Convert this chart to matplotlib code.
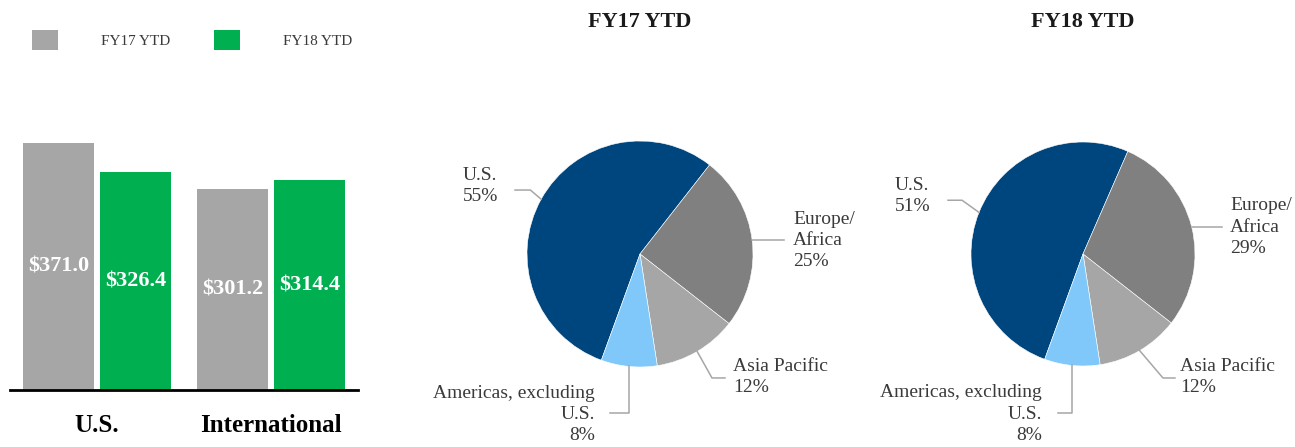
import matplotlib
matplotlib.use('Agg')
import matplotlib.pyplot as plt
import numpy as np

plt.rcParams['font.family'] = ['Liberation Serif', 'DejaVu Serif']

# data
bar_cats = ['U.S.', 'International']
fy17_rev = [371.0, 301.2]
fy18_rev = [326.4, 314.4]
series_names = ['FY17 YTD', 'FY18 YTD']

pie_labels = ['U.S.', 'Europe/\nAfrica', 'Asia Pacific', 'Americas, excluding\nU.S.']
fy17_share = [55, 25, 12, 8]
fy18_share = [51, 29, 12, 8]

GRAY = '#A6A6A6'
GREEN = '#00B050'
pie_colors = ['#00467E', '#808080', '#A6A6A6', '#80C8FA']
TXT = '#3A3A3A'

W, H = 1295, 447
fig = plt.figure(figsize=(W / 100, H / 100), dpi=100)


def box(l, t, w, h):
    return [l / W, 1 - (t + h) / H, w / W, h / H]


# ---- bar chart
ax = fig.add_axes(box(10, 130, 348, 260))
x = np.arange(len(bar_cats))
bw = 0.408
off = 0.221
b1 = ax.bar(x - off, fy17_rev, bw, color=GRAY, label=series_names[0])
b2 = ax.bar(x + off, fy18_rev, bw, color=GREEN, label=series_names[1])
for bars, vals in [(b1, fy17_rev), (b2, fy18_rev)]:
    for r, v in zip(bars, vals):
        ax.text(r.get_x() + r.get_width() / 2, v / 2, '$%.1f' % v,
                ha='center', va='center', color='white', fontsize=16,
                fontweight='bold')
ax.set_xlim(-0.5, 1.5)
ax.set_ylim(0, 390)
for s in ['top', 'right', 'left']:
    ax.spines[s].set_visible(False)
ax.spines['bottom'].set_linewidth(2)
ax.set_yticks([])
ax.set_xticks(x)
ax.set_xticklabels(bar_cats, fontsize=18, fontweight='bold')
ax.tick_params(axis='x', length=0, pad=17)

leg = fig.legend(handles=[b1, b2], labels=series_names, loc='center left',
                 bbox_to_anchor=(32 / W, 1 - 40 / H), ncol=2, frameon=False,
                 fontsize=11, handlelength=1.7, handleheight=1.7,
                 handletextpad=2.8, columnspacing=2.9, borderpad=0,
                 borderaxespad=0)
for t in leg.get_texts():
    t.set_color(TXT)

# ---- pies
# label layout in pie radius units: text pos, ha, elbow, leader end
layout17 = [
    dict(pos=(-1.566, 0.60), ha='left', elbow=(-0.97, 0.566), end=(-1.106, 0.566)),
    dict(pos=(1.354, 0.12), ha='left', elbow=None, end=(1.27, None)),
    dict(pos=(0.823, -1.09), ha='left', elbow=(0.637, -1.097), end=(0.752, -1.097)),
    dict(pos=(-0.398, -1.42), ha='right', elbow='v', end=(-0.265, -1.407)),
]
layout18 = [
    dict(pos=(-1.679, 0.52), ha='left', elbow=(-1.08, 0.48), end=(-1.205, 0.48)),
    dict(pos=(1.3125, 0.24), ha='left', elbow=None, end=(1.24, None)),
    dict(pos=(0.866, -1.10), ha='left', elbow=(0.714, -1.107), end=(0.821, -1.107)),
    dict(pos=(-0.366, -1.43), ha='right', elbow='v', end=(-0.223, -1.42)),
]


def draw_pie(cx, cy, r, shares, layout, title):
    pax = fig.add_axes(box(cx - r, cy - r, 2 * r, 2 * r))
    wedges, _ = pax.pie(shares, colors=pie_colors, startangle=250,
                        counterclock=False,
                        wedgeprops=dict(edgecolor='white', linewidth=0.4))
    pax.set_xlim(-1, 1)
    pax.set_ylim(-1, 1)
    pax.set_aspect('equal')
    pax.axis('off')
    for w, lab, s, lo in zip(wedges, pie_labels, shares, layout):
        a = np.deg2rad((w.theta1 + w.theta2) / 2)
        ex, ey = np.cos(a), np.sin(a)
        if lo['elbow'] is None:
            xs, ys = [ex, lo['end'][0]], [ey, ey]
        elif lo['elbow'] == 'v':
            xs = [ex, ex, lo['end'][0]]
            ys = [ey, lo['end'][1], lo['end'][1]]
        else:
            xs = [ex, lo['elbow'][0], lo['end'][0]]
            ys = [ey, lo['elbow'][1], lo['end'][1]]
        pax.plot(xs, ys, color=GRAY, lw=1.1, clip_on=False)
        pax.text(lo['pos'][0], lo['pos'][1], '%s\n%d%%' % (lab, s),
                 ha=lo['ha'], va='center', multialignment=lo['ha'],
                 fontsize=14, color=TXT, linespacing=1.33)
    fig.text(cx / W, 1 - 22 / H, title, ha='center', va='center',
             fontsize=16, fontweight='bold', color='#1A1A1A')


draw_pie(640, 254, 113, fy17_share, layout17, 'FY17 YTD')
draw_pie(1083, 254, 112, fy18_share, layout18, 'FY18 YTD')

fig.savefig('out.png', dpi=100)
